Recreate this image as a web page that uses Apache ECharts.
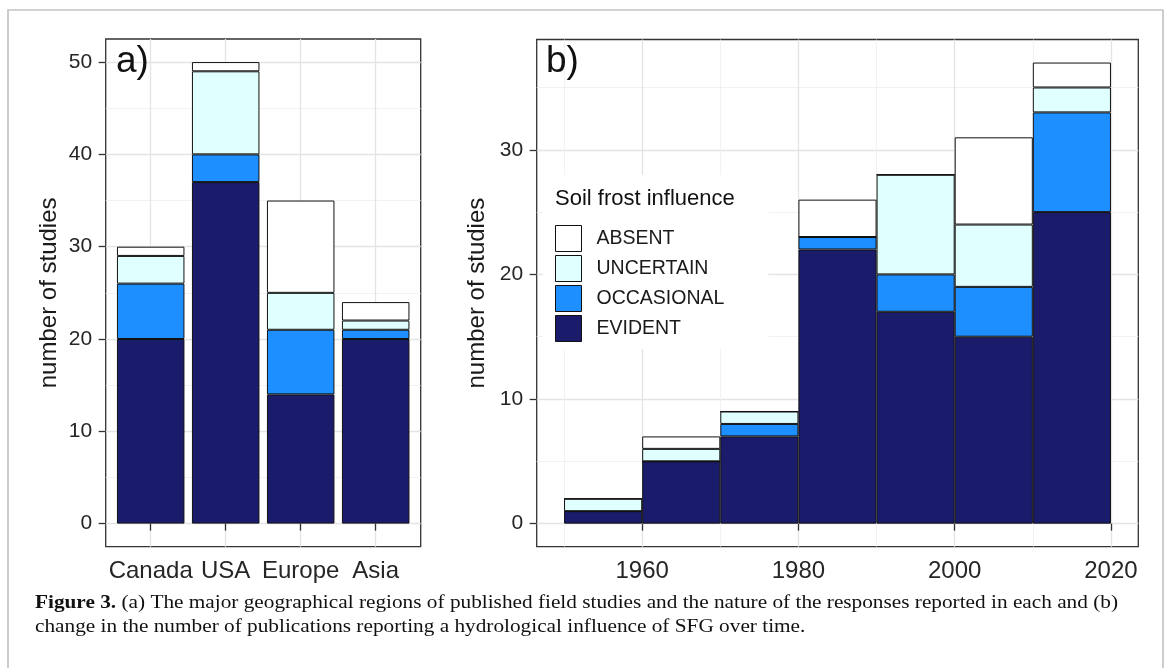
<!DOCTYPE html>
<html>
<head>
<meta charset="utf-8">
<script src="https://cdn.jsdelivr.net/npm/echarts@6/dist/echarts.min.js"></script>
<style>
html,body{margin:0;padding:0;background:#fff;}
#c{width:1167px;height:668px;}
</style>
</head>
<body>
<div id="c"></div>
<script>
// ---------- data ----------
const regions = ['Canada', 'USA', 'Europe', 'Asia'];
const regionEvident    = [20, 37, 14, 20];
const regionOccasional = [6, 3, 7, 1];
const regionUncertain  = [3, 9, 4, 1];
const regionAbsent     = [1, 1, 10, 2];

const decadeMid        = [1955, 1965, 1975, 1985, 1995, 2005, 2015];
const decadeEvident    = [1, 5, 7, 22, 17, 15, 25];
const decadeOccasional = [0, 0, 1, 1, 3, 4, 8];
const decadeUncertain  = [1, 1, 1, 0, 8, 5, 2];
const decadeAbsent     = [0, 1, 0, 3, 0, 7, 2];
const binWidth = 10;

const countTicksA = [0, 10, 20, 30, 40, 50];
const countTicksB = [0, 10, 20, 30];
const yearTicks   = [1960, 1980, 2000, 2020];

const levels = ['EVIDENT', 'OCCASIONAL', 'UNCERTAIN', 'ABSENT'];
const legendOrder = ['ABSENT', 'UNCERTAIN', 'OCCASIONAL', 'EVIDENT'];
const colors = { EVIDENT: '#1b1b6c', OCCASIONAL: '#1e8fff', UNCERTAIN: '#e0ffff', ABSENT: '#ffffff' };

// ---------- layout ----------
const gridA = { left: 105.7, top: 39, width: 315, height: 507.7 };
const gridB = { left: 536.7, top: 39.5, width: 601.6, height: 507.2 };

const regionSeries = { EVIDENT: regionEvident, OCCASIONAL: regionOccasional, UNCERTAIN: regionUncertain, ABSENT: regionAbsent };
const decadeSeries = { EVIDENT: decadeEvident, OCCASIONAL: decadeOccasional, UNCERTAIN: decadeUncertain, ABSENT: decadeAbsent };

function totals(obj, n) {
  const t = new Array(n).fill(0);
  levels.forEach(l => obj[l].forEach((v, i) => t[i] += v));
  return t;
}
const totA = totals(regionSeries, regions.length);
const totB = totals(decadeSeries, decadeMid.length);
const maxA = Math.max(...totA), maxB = Math.max(...totB);
const yA = [-0.05 * maxA, maxA * 1.05];
const yB = [-0.05 * maxB, maxB * 1.05];
const xA = [1 - 0.6, regions.length + 0.6];
const xLo = decadeMid[0] - binWidth / 2, xHi = decadeMid[decadeMid.length - 1] + binWidth / 2;
const xB = [xLo - 0.05 * (xHi - xLo), xHi + 0.05 * (xHi - xLo)];

const barWA = gridA.width / (xA[1] - xA[0]) * 0.9;
const barWB = gridB.width / (xB[1] - xB[0]) * binWidth;

const FONT = 'Liberation Sans, Arial, Helvetica, sans-serif';
const txt = '#262626';

function mkSeries(name, data, idx, stack, bw) {
  return {
    type: 'bar', name: name, xAxisIndex: idx, yAxisIndex: idx, stack: stack,
    barWidth: bw, data: data, encode: { x: 1, y: 0 },
    itemStyle: { color: colors[name], borderColor: '#111', borderWidth: 1 },
    emphasis: { disabled: true }, silent: true
  };
}
const series = [];
// data rows are [count, position] so that the count is the stacked dimension
levels.forEach(l => series.push(mkSeries(l, regionSeries[l].map((v, i) => [v, i + 1]), 0, 'a', barWA)));
levels.forEach(l => series.push(mkSeries(l, decadeSeries[l].map((v, i) => [v, decadeMid[i]]), 1, 'b', barWB)));

const gridStyle = { show: true, borderColor: '#333', borderWidth: 1.3, backgroundColor: 'transparent' };
const majorLine = { show: true, lineStyle: { color: '#e4e4e4', width: 1.3 } };
const minorLine = { show: true, lineStyle: { color: '#efefef', width: 0.8 } };
const tickStyle = (vals) => ({ show: true, length: 7, lineStyle: { color: '#333', width: 1.3 }, customValues: vals });

function yAxis(gi, rng, ticks) {
  return {
    type: 'value', gridIndex: gi, min: rng[0], max: rng[1],
    axisLine: { show: false },
    axisTick: tickStyle(ticks),
    axisLabel: { customValues: ticks, margin: 13.5, fontSize: 21, fontFamily: FONT, color: txt },
    splitLine: majorLine,
    minorTick: { show: false, splitNumber: 2 },
    minorSplitLine: minorLine,
    name: 'number of studies', nameLocation: 'middle', nameGap: 44,
    nameTextStyle: { fontSize: 24, fontFamily: FONT, color: '#1a1a1a' }
  };
}

// caption sizing
const capFont = 'Liberation Serif, Times New Roman, serif';
const capSize = 19;
const meas = document.createElement('canvas').getContext('2d');
function w(t, bold) { meas.font = (bold ? 'bold ' : '') + capSize + 'px ' + capFont; return meas.measureText(t).width; }
const capBold = 'Figure 3.';
const cap1 = ' (a) The major geographical regions of published field studies and the nature of the responses reported in each and (b)';
const cap2 = 'change in the number of publications reporting a hydrological influence of SFG over time.';
const capScale = (1118 - 35) / (w(capBold, true) + w(cap1, false));

const option = {
  animation: false,
  backgroundColor: '#fff',
  grid: [Object.assign({}, gridA, gridStyle), Object.assign({}, gridB, gridStyle)],
  xAxis: [
    {
      type: 'value', gridIndex: 0, min: xA[0], max: xA[1],
      axisLine: { show: false },
      axisTick: tickStyle(regions.map((r, i) => i + 1)),
      axisLabel: { customValues: regions.map((r, i) => i + 1), formatter: v => regions[Math.round(v) - 1] || '',
                   margin: 12.5, fontSize: 24, fontFamily: FONT, color: txt },
      splitLine: majorLine,
      minorSplitLine: { show: false }
    },
    {
      type: 'value', gridIndex: 1, min: xB[0], max: xB[1],
      axisLine: { show: false },
      axisTick: tickStyle(yearTicks),
      axisLabel: { customValues: yearTicks, formatter: v => String(Math.round(v)),
                   margin: 12.5, fontSize: 24, fontFamily: FONT, color: txt },
      splitLine: majorLine,
      minorTick: { show: false, splitNumber: 2 },
      minorSplitLine: minorLine
    }
  ],
  yAxis: [yAxis(0, yA, countTicksA), yAxis(1, yB, countTicksB)],
  legend: {
    data: legendOrder, orient: 'vertical', left: 543, top: 175,
    padding: [50, 44, 7, 12], backgroundColor: '#fff',
    itemWidth: 26, itemHeight: 26, itemGap: 3, icon: 'rect', selectedMode: false,
    itemStyle: { borderColor: '#111', borderWidth: 1 },
    textStyle: { fontSize: 19.5, fontFamily: FONT, color: '#1a1a1a', padding: [0, 0, 0, 10] }
  },
  graphic: [
    { type: 'rect', z: 200, shape: { x: 8, y: 10, width: 1155, height: 700 },
      style: { fill: 'none', stroke: '#c4c4c4', lineWidth: 1.7 }, silent: true },
    { type: 'text', z: 200, x: 116, y: 43,
      style: { text: 'a)', fontSize: 37, fontFamily: FONT, fill: '#111', verticalAlign: 'top' } },
    { type: 'text', z: 200, x: 546, y: 43,
      style: { text: 'b)', fontSize: 37, fontFamily: FONT, fill: '#111', verticalAlign: 'top' } },
    { type: 'text', z: 200, x: 555, y: 188,
      style: { text: 'Soil frost influence', fontSize: 22, fontFamily: FONT, fill: '#111', verticalAlign: 'top' } },
    { type: 'text', z: 200, x: 35, y: 594, scaleX: capScale,
      style: { text: '{b|' + capBold + '}' + cap1, fontSize: capSize, fontFamily: capFont, fill: '#111',
               verticalAlign: 'top', rich: { b: { fontWeight: 'bold', fontSize: capSize, fontFamily: capFont, fill: '#111' } } } },
    { type: 'text', z: 200, x: 35, y: 618, scaleX: capScale,
      style: { text: cap2, fontSize: capSize, fontFamily: capFont, fill: '#111', verticalAlign: 'top' } }
  ],
  series: series
};

const chart = echarts.init(document.getElementById('c'), null, { renderer: 'canvas', width: 1167, height: 668 });
chart.setOption(option);
</script>
</body>
</html>
